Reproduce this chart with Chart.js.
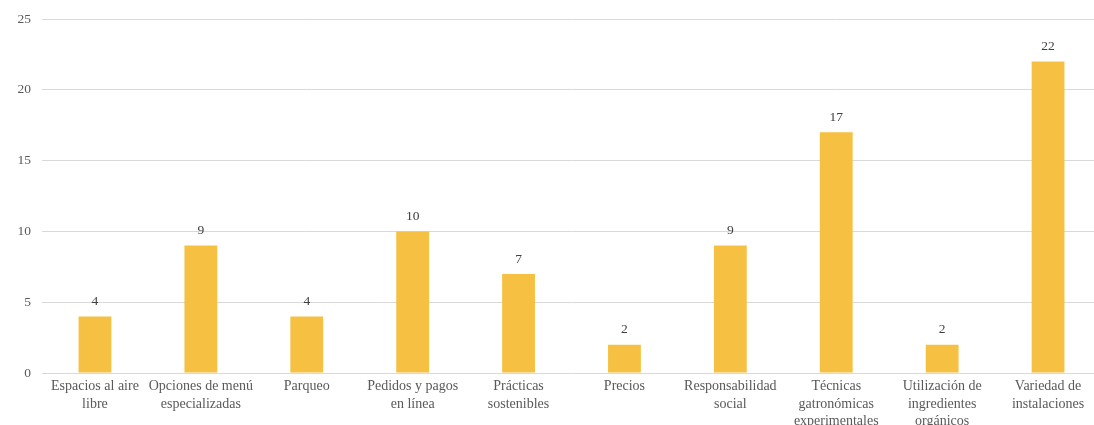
<!DOCTYPE html>
<html>
<head>
<meta charset="utf-8">
<script src="https://cdn.jsdelivr.net/npm/chart.js@4/dist/chart.umd.min.js"></script>
<style>
  html, body { margin: 0; padding: 0; background: #fff; overflow: hidden; }
  #wrap { width: 1101px; height: 425px; position: relative; }
</style>
</head>
<body>
<div id="wrap"><canvas id="c"></canvas></div>
<script>
// Categories (multi-line labels) and counts per category
const categories = [
  ["Espacios al aire", "libre"],
  ["Opciones de menú", "especializadas"],
  ["Parqueo"],
  ["Pedidos y pagos", "en línea"],
  ["Prácticas", "sostenibles"],
  ["Precios"],
  ["Responsabilidad", "social"],
  ["Técnicas", "gatronómicas", "experimentales"],
  ["Utilización de", "ingredientes", "orgánicos"],
  ["Variedad de", "instalaciones"]
];
const counts = [4, 9, 4, 10, 7, 2, 9, 17, 2, 22];
const yTicks = [0, 5, 10, 15, 20, 25];

const FONT = "'Liberation Serif', 'Times New Roman', serif";
const TEXT = '#595959';

// Draws each bar's value centred above it
const valueLabels = {
  id: 'valueLabels',
  afterDatasetsDraw(chart) {
    const ctx = chart.ctx;
    const meta = chart.getDatasetMeta(0);
    ctx.save();
    ctx.font = '13.5px ' + FONT;
    ctx.fillStyle = '#404040';
    ctx.textAlign = 'center';
    ctx.textBaseline = 'bottom';
    meta.data.forEach((bar, i) => {
      ctx.fillText(String(counts[i]), bar.x, bar.y - 8);
    });
    ctx.restore();
  }
};

new Chart(document.getElementById('c'), {
  type: 'bar',
  data: {
    labels: categories,
    datasets: [{
      data: counts,
      backgroundColor: '#F6C142',
      borderWidth: 0,
      barPercentage: 0.31,
      categoryPercentage: 1
    }]
  },
  options: {
    responsive: true,
    maintainAspectRatio: false,
    animation: false,
    layout: { padding: { top: 12, right: 0, left: 0, bottom: 0 } },
    plugins: { legend: { display: false }, tooltip: { enabled: false } },
    scales: {
      x: {
        grid: { display: false, drawTicks: false },
        border: { display: false },
        ticks: {
          color: TEXT,
          font: { family: FONT, size: 14, lineHeight: 1.25 },
          maxRotation: 0,
          autoSkip: false,
          padding: 5
        },
        afterFit(scale) { scale.height = 52; }
      },
      y: {
        min: 0,
        max: 25,
        afterBuildTicks(scale) { scale.ticks = yTicks.map(v => ({ value: v })); },
        grid: { color: '#D9D9D9', lineWidth: 1, drawTicks: false },
        border: { display: false },
        ticks: {
          color: TEXT,
          font: { family: FONT, size: 13.5 },
          padding: 11
        },
        afterFit(scale) { scale.width = 42; }
      }
    }
  },
  plugins: [valueLabels]
});
</script>
</body>
</html>
